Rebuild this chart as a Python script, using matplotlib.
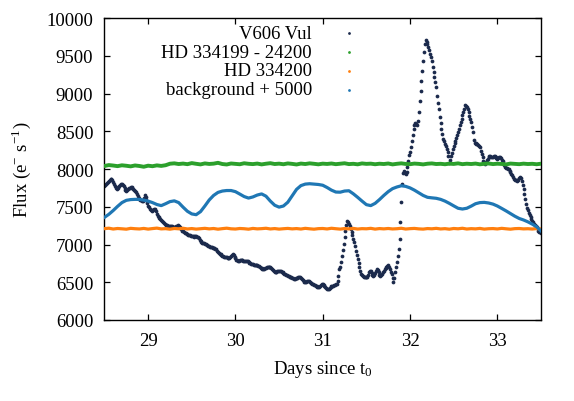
import numpy as np
import matplotlib
matplotlib.use('Agg')
from matplotlib import pyplot as plt

plt.rcParams['font.family'] = ['Liberation Serif', 'DejaVu Serif']
plt.rcParams['mathtext.fontset'] = 'stix'

# V606 Vul light curve, one reading every 0.01 d from t = 28.50
t0_vul = 28.50
dt_vul = 0.01
flux_vul = [
    7775, 7785, 7800, 7815, 7830, 7845, 7860, 7868, 7870, 7855,
    7830, 7800, 7770, 7748, 7735, 7742, 7758, 7775, 7790, 7798,
    7800, 7790, 7770, 7745, 7725, 7715, 7720, 7735, 7748, 7755,
    7758, 7760, 7750, 7735, 7722, 7715, 7700, 7675, 7645, 7615,
    7600, 7592, 7585, 7580, 7582, 7620, 7655, 7630, 7585, 7545,
    7515, 7495, 7475, 7460, 7450, 7452, 7460, 7468, 7470, 7445,
    7410, 7380, 7365, 7350, 7335, 7322, 7315, 7300, 7285, 7270,
    7262, 7257, 7253, 7250, 7250, 7250, 7245, 7240, 7235, 7230,
    7232, 7238, 7245, 7250, 7252, 7245, 7230, 7215, 7200, 7185,
    7175, 7165, 7155, 7148, 7140, 7135, 7130, 7125, 7120, 7117,
    7115, 7110, 7105, 7108, 7112, 7108, 7102, 7100, 7085, 7060,
    7040, 7030, 7025, 7020, 7015, 7008, 7003, 7000, 6995, 6985,
    6978, 6972, 6968, 6965, 6960, 6955, 6950, 6943, 6935, 6920,
    6905, 6890, 6878, 6868, 6860, 6852, 6846, 6840, 6836, 6832,
    6828, 6824, 6820, 6822, 6835, 6852, 6866, 6872, 6862, 6840,
    6815, 6798, 6790, 6785, 6786, 6790, 6793, 6795, 6792, 6788,
    6786, 6785, 6785, 6783, 6775, 6765, 6757, 6750, 6745, 6740,
    6738, 6735, 6732, 6728, 6725, 6722, 6720, 6715, 6705, 6693,
    6683, 6677, 6675, 6678, 6683, 6690, 6696, 6700, 6702, 6701,
    6700, 6690, 6675, 6658, 6645, 6637, 6635, 6638, 6643, 6650,
    6654, 6655, 6650, 6640, 6630, 6622, 6615, 6610, 6602, 6594,
    6586, 6578, 6572, 6570, 6565, 6558, 6552, 6548, 6545, 6550,
    6556, 6562, 6567, 6570, 6570, 6560, 6545, 6528, 6512, 6503,
    6500, 6508, 6515, 6520, 6515, 6505, 6495, 6487, 6480, 6475,
    6468, 6460, 6452, 6445, 6440, 6435, 6440, 6450, 6462, 6472,
    6475, 6470, 6455, 6440, 6425, 6415, 6410, 6415, 6425, 6437,
    6445, 6450, 6455, 6462, 6468, 6472, 6478, 6510, 6585, 6680,
    6700, 6770, 6850, 6930, 7010, 7100, 7185, 7260, 7310, 7295,
    7270, 7240, 7205, 7165, 7120, 7075, 7030, 6975, 6920, 6865,
    6810, 6760, 6700, 6645, 6610, 6590, 6582, 6576, 6572, 6570,
    6570, 6572, 6600, 6640, 6655, 6645, 6620, 6598, 6585, 6595,
    6625, 6655, 6675, 6660, 6630, 6600, 6585, 6595, 6612, 6630,
    6650, 6672, 6692, 6708, 6718, 6722, 6705, 6672, 6640, 6612,
    6560, 6500, 6560, 6635, 6700, 6765, 6850, 6940, 7075, 7300,
    7560, 7800, 7950, 7975, 7945, 7930, 7965, 8030, 8110, 8190,
    8225, 8290, 8370, 8450, 8525, 8580, 8610, 8600, 8580, 8640,
    8760, 8900, 9030, 9165, 9300, 9430, 9550, 9650, 9715, 9680,
    9650, 9615, 9570, 9525, 9480, 9435, 9350, 9290, 9220, 9150,
    9085, 8970, 8880, 8800, 8690, 8610, 8530, 8465, 8400, 8365,
    8330, 8300, 8265, 8220, 8175, 8080, 8120, 8170, 8215, 8265,
    8300, 8340, 8375, 8415, 8455, 8490, 8535, 8580, 8620, 8665,
    8710, 8755, 8800, 8850, 8840, 8820, 8795, 8750, 8705, 8660,
    8620, 8555, 8490, 8380, 8350, 8340, 8335, 8330, 8320, 8305,
    8290, 8245, 8200, 8155, 8110, 8085, 8070, 8090, 8115, 8135,
    8160, 8175, 8172, 8165, 8160, 8165, 8172, 8175, 8165, 8150,
    8135, 8145, 8155, 8160, 8145, 8125, 8110, 8080, 8050, 8025,
    8015, 8008, 8003, 8000, 7980, 7958, 7935, 7915, 7893, 7870,
    7860, 7852, 7848, 7845, 7860, 7880, 7895, 7875, 7845, 7790,
    7735, 7670, 7600, 7540, 7490, 7460, 7420, 7395, 7365, 7340,
    7315, 7300, 7270, 7255, 7240, 7230, 7205, 7180, 7170, 7160,
    7150,
]

# comparison stars and background, one reading every 0.05 d from t = 28.50
t0_cmp = 28.50
dt_cmp = 0.05
flux_hd334199 = [
    8040, 8052, 8046, 8038, 8049, 8043, 8035, 8047, 8040, 8030,
    8044, 8037, 8048, 8041, 8050,
    8070, 8075, 8066, 8072, 8064, 8078, 8069, 8061, 8074, 8067,
    8071, 8082, 8066, 8060, 8073, 8068, 8063, 8076, 8069, 8065,
    8072, 8061, 8070, 8077, 8066, 8071, 8063, 8074, 8068, 8060,
    8072, 8066, 8075, 8069, 8062, 8071, 8067, 8073, 8064, 8070,
    8076, 8065, 8069, 8062, 8074, 8068, 8071, 8063, 8070, 8066,
    8073, 8061, 8069, 8075, 8067, 8064, 8072, 8068, 8061, 8070,
    8074, 8066, 8069, 8063, 8071, 8067, 8075, 8064, 8070, 8066,
    8072, 8062, 8069, 8073, 8065, 8070, 8067, 8061, 8072, 8068,
    8064, 8071, 8066, 8069, 8063, 8070,
]
flux_hd334200 = [
    7210, 7216, 7205, 7212, 7208, 7203, 7214, 7209, 7206, 7213,
    7204, 7211, 7217, 7207, 7210, 7203, 7212, 7208, 7215, 7206,
    7211, 7204, 7209, 7214, 7207, 7212, 7203, 7210, 7216, 7208,
    7205, 7212, 7209, 7203, 7213, 7207, 7210, 7215, 7206, 7211,
    7204, 7209, 7213, 7207, 7211, 7205, 7214, 7208, 7203, 7210,
    7212, 7206, 7215, 7209, 7204, 7211, 7207, 7213, 7205, 7210,
    7208, 7214, 7204, 7211, 7207, 7212, 7206, 7209, 7215, 7205,
    7210, 7213, 7207, 7204, 7211, 7208, 7214, 7206, 7210, 7203,
    7212, 7208, 7215, 7205, 7210, 7207, 7213, 7204, 7209, 7211,
    7206, 7214, 7208, 7203, 7210, 7212, 7207, 7209, 7205, 7211,
    7208,
]
flux_background = [
    7360, 7400, 7450, 7505, 7555, 7585, 7595, 7598, 7597, 7588,
    7575, 7555, 7530, 7515, 7540, 7568, 7578, 7555, 7495, 7440,
    7405, 7395, 7435, 7510, 7590, 7650, 7690, 7708, 7715, 7715,
    7700, 7668, 7635, 7615, 7630, 7655, 7670, 7640, 7575, 7520,
    7495, 7510, 7560, 7645, 7730, 7780, 7800, 7805, 7800, 7795,
    7785, 7755, 7720, 7695, 7693, 7708, 7712, 7672, 7625, 7575,
    7528, 7515, 7545, 7595, 7650, 7700, 7740, 7762, 7778, 7770,
    7750, 7720, 7685, 7650, 7625, 7618, 7612, 7598, 7575, 7545,
    7512, 7480, 7470, 7480, 7508, 7540, 7555, 7558, 7550, 7535,
    7510, 7478, 7445, 7410, 7375, 7345, 7325, 7300, 7270, 7235,
    7180,
]

labels = ['V606 Vul', 'HD 334199 - 24200', 'HD 334200', 'background + 5000']
colors = ['#1b2a4c', '#2ca02c', '#ff7f0e', '#1f77b4']

t_vul = t0_vul + dt_vul * np.arange(len(flux_vul))
t_hd1 = t0_cmp + dt_cmp * np.arange(len(flux_hd334199))
t_hd2 = t0_cmp + dt_cmp * np.arange(len(flux_hd334200))
t_bkg = t0_cmp + dt_cmp * np.arange(len(flux_background))

fig = plt.figure(figsize=(5.74, 4.02), dpi=100)
ax = fig.add_axes([0.182, 0.2015, 0.7605, 0.7512])

ax.plot(t_vul, flux_vul, 'o', ms=2.7, mew=0, color=colors[0], zorder=2)
ax.plot(t_hd1, flux_hd334199, '-', lw=2.8, color=colors[1], zorder=3)
ax.plot(t_hd2, flux_hd334200, '-', lw=2.3, color=colors[2], zorder=3)
ax.plot(t_bkg, flux_background, '-', lw=2.3, color=colors[3], zorder=3)

ax.set_xlim(28.5, 33.5)
ax.set_ylim(6000, 10000)
ax.set_xticks([29, 30, 31, 32, 33])
ax.set_yticks(np.arange(6000, 10001, 500))

ax.tick_params(direction='in', top=True, right=True, length=4, width=0.9,
               labelsize=13.5)
ax.tick_params(axis='x', pad=9)
ax.tick_params(axis='y', pad=8)
for s in ax.spines.values():
    s.set_linewidth(1.0)

ax.set_xlabel('Days since t$_\\mathregular{0}$', fontsize=13.5, labelpad=6)
ax.set_ylabel('Flux (e$^\\mathregular{-}$ s$^\\mathregular{-1}$)', fontsize=13.5,
              labelpad=10)

# gnuplot-style key: right-aligned text, dot sample to the right
key_y = [0.949, 0.887, 0.825, 0.763]
for lab, c, y in zip(labels, colors, key_y):
    ax.text(0.475, y, lab, transform=ax.transAxes, ha='right', va='center',
            fontsize=13.5)
    ax.plot([0.560], [y], 'o', ms=2.0, mew=0, color=c, transform=ax.transAxes,
            clip_on=False)

plt.savefig('out.png', dpi=100)
